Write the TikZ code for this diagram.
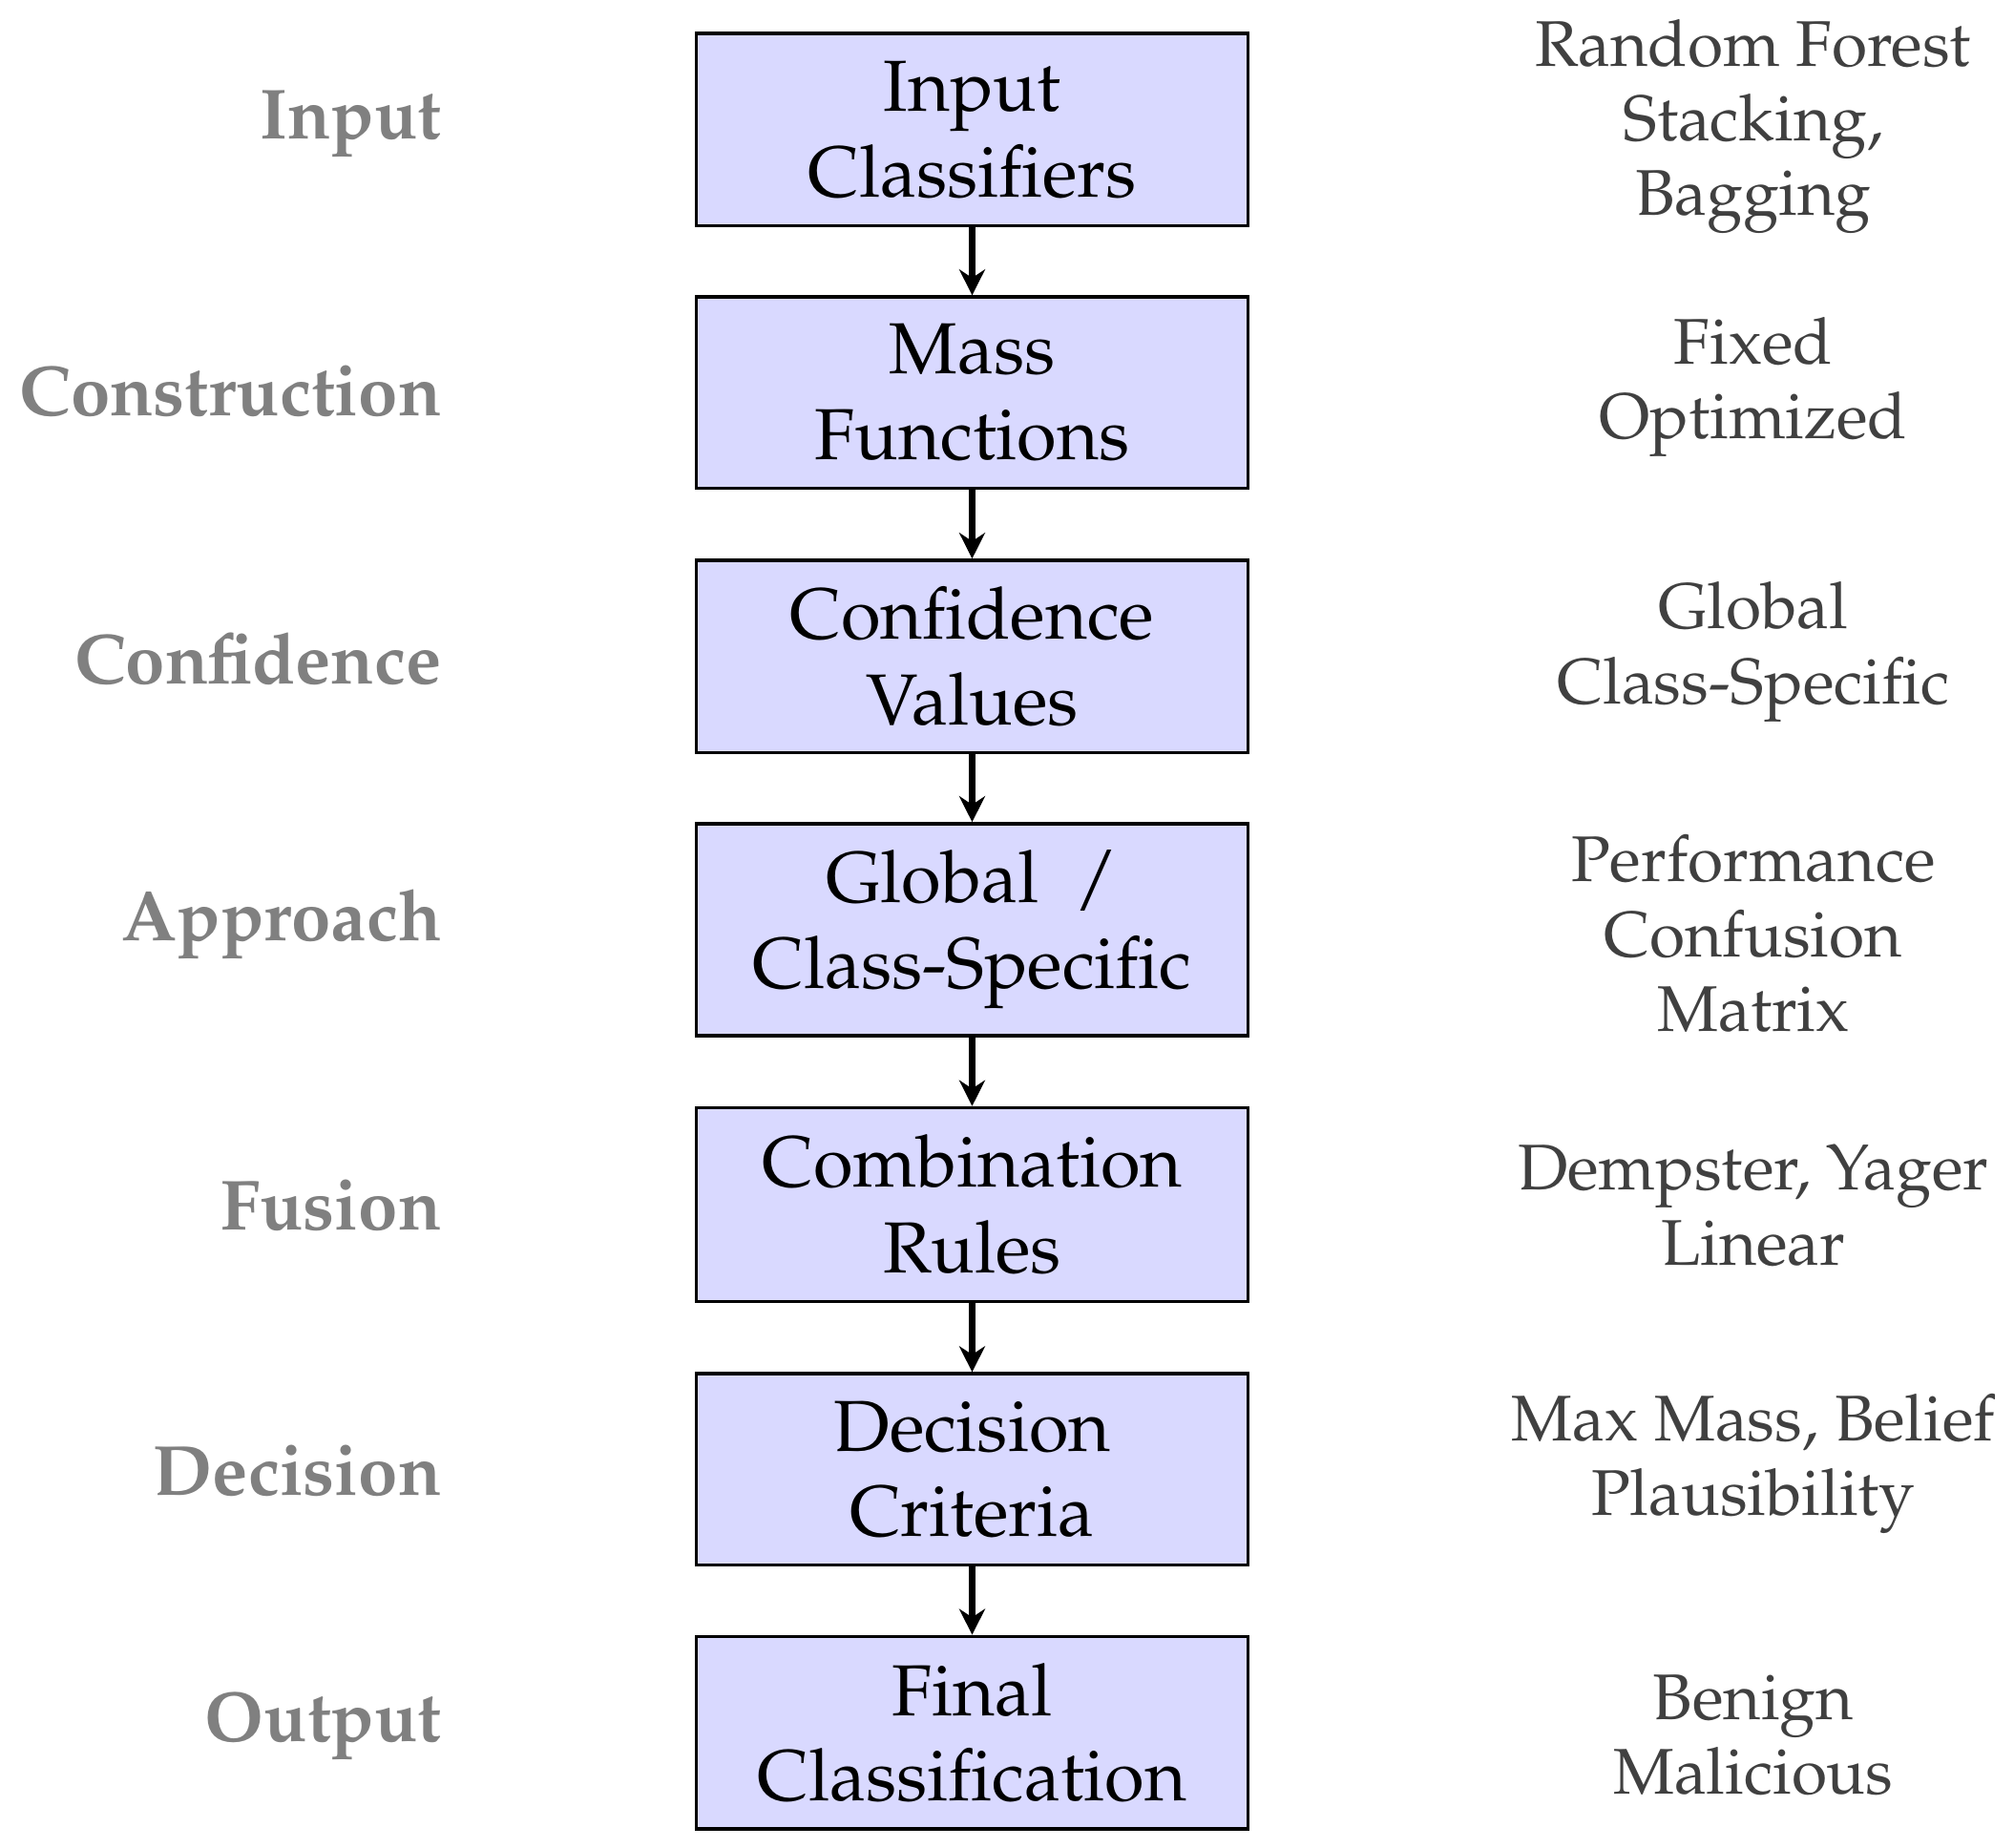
\documentclass[tikz,border=0pt]{standalone}
\usepackage[T1]{fontenc}
\usepackage{mathpazo}
\usetikzlibrary{arrows.meta}
\begin{document}
\begin{tikzpicture}[x=0.5pt,y=-0.5pt,
  box/.style={draw=black,line width=1.3pt,fill=blue!15,minimum width=213.5pt,align=center,inner sep=0pt,font=\fontsize{28}{33}\selectfont},
  lab/.style={anchor=east,text=black!50,font=\bfseries\fontsize{27.5}{33}\selectfont},
  note/.style={align=center,text=black!75,font=\fontsize{25}{29}\selectfont},
  arr/.style={-{Stealth[length=10pt,width=10pt]},line width=2.4pt}]
\useasboundingbox (0,0) rectangle (1560,1431);
\node[box,minimum height=74.5pt] (b1) at (753,100.5) {Input\\Classifiers};
\node[box,minimum height=74pt] (b2) at (753,304) {Mass\\Functions};
\node[box,minimum height=74.5pt] (b3) at (753,508.5) {Confidence\\Values};
\node[box,minimum height=82pt] (b4) at (753,720) {Global \ /\\Class-Specific};
\node[box,minimum height=75pt] (b5) at (753,933) {Combination\\Rules};
\node[box,minimum height=74pt] (b6) at (753,1138) {Decision\\Criteria};
\node[box,minimum height=74.5pt] (b7) at (753,1342) {Final\\Classification};
\foreach \a/\b in {b1/b2,b2/b3,b3/b4,b4/b5,b5/b6,b6/b7} \draw[arr] (\a) -- (\b);
\node[lab] (l1) at (349,96) {Input};
\node[lab] (l2) at (349,303) {Construction};
\node[lab] (l3) at (349,510) {Confidence};
\node[lab] (l4) at (349,716) {Approach};
\node[lab] (l5) at (349,934) {Fusion};
\node[lab] (l6) at (349,1139) {Decision};
\node[lab] (l7) at (349,1337) {Output};
\node[note] (r1) at (1358,98) {Random Forest\\Stacking,\\Bagging};
\node[note] (r2) at (1358,300) {Fixed\\Optimized};
\node[note] (r3) at (1358,505) {Global\\Class-Specific};
\node[note] (r4) at (1358,723) {Performance\\Confusion\\Matrix};
\node[note] (r5) at (1358,934) {Dempster, Yager\\Linear};
\node[note] (r6) at (1358,1134) {Max Mass, Belief\\Plausibility};
\node[note] (r7) at (1358,1344) {Benign\\Malicious};
\end{tikzpicture}
\end{document}
